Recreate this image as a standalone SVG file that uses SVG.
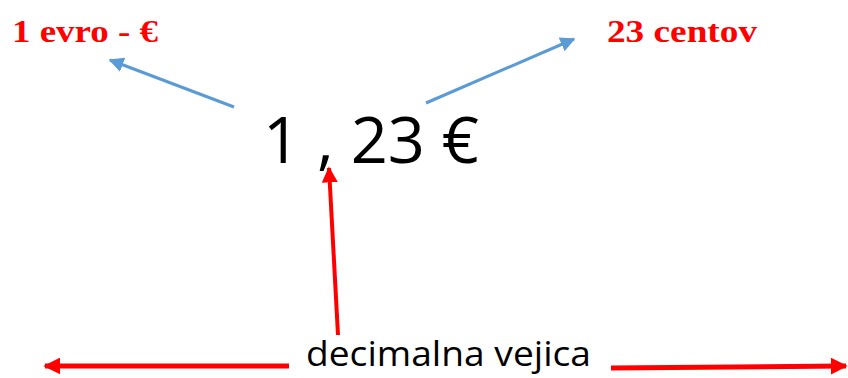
<svg xmlns="http://www.w3.org/2000/svg" width="848" height="378" viewBox="0 0 848 378">
<defs>
<style>
.lbl{font-family:"Liberation Serif","Times New Roman",serif;font-weight:bold;fill:#ff0000;font-size:32px}
.big{font-family:"Open Sans","Liberation Sans",sans-serif;fill:#000;font-size:64px}
.dec{font-family:"Open Sans","Liberation Sans",sans-serif;fill:#000;font-size:35px}
.blue{stroke:#5b9bd5;stroke-width:3;fill:none}
.red{stroke:#ff0000;stroke-width:4;fill:none}
.redb{stroke:#ff0000;stroke-width:5;fill:none}
</style>
<marker id="ab" viewBox="0 0 10 10" refX="9" refY="5" markerWidth="5" markerHeight="5" orient="auto" markerUnits="strokeWidth"><path d="M0,0 L10,5 L0,10 z" fill="#5b9bd5"/></marker>
<marker id="ar" viewBox="0 0 10 10" refX="9" refY="5" markerWidth="4" markerHeight="4" orient="auto" markerUnits="strokeWidth"><path d="M0,0 L10,5 L0,10 z" fill="#ff0000"/></marker>
<marker id="ar2" viewBox="0 0 10 10" refX="9" refY="5" markerWidth="3.4" markerHeight="3.4" orient="auto" markerUnits="strokeWidth"><path d="M0,0 L10,5 L0,10 z" fill="#ff0000"/></marker>
</defs>
<rect width="848" height="378" fill="#fff"/>
<g id="connectors">
<line class="blue" x1="234" y1="107" x2="110" y2="60" marker-end="url(#ab)"/>
<line class="blue" x1="426" y1="103" x2="574" y2="39" marker-end="url(#ab)"/>
<line class="red" x1="338" y1="335" x2="329" y2="168" marker-end="url(#ar)"/>
<line class="redb" x1="289" y1="366" x2="45" y2="366" marker-end="url(#ar2)"/>
<line class="redb" x1="611" y1="368" x2="846" y2="366" marker-end="url(#ar2)"/>
</g>
<g id="euro-label"><text class="lbl" x="12" y="42" textLength="146" lengthAdjust="spacingAndGlyphs">1 evro - €</text></g>
<g id="cent-label"><text class="lbl" x="607" y="42" textLength="150" lengthAdjust="spacingAndGlyphs">23 centov</text></g>
<g id="amount"><text class="big" x="263" y="163" textLength="216" lengthAdjust="spacingAndGlyphs">1 , 23 €</text></g>
<g id="decimal-label"><text class="dec" x="306" y="366" textLength="285" lengthAdjust="spacingAndGlyphs">decimalna vejica</text></g>
</svg>
